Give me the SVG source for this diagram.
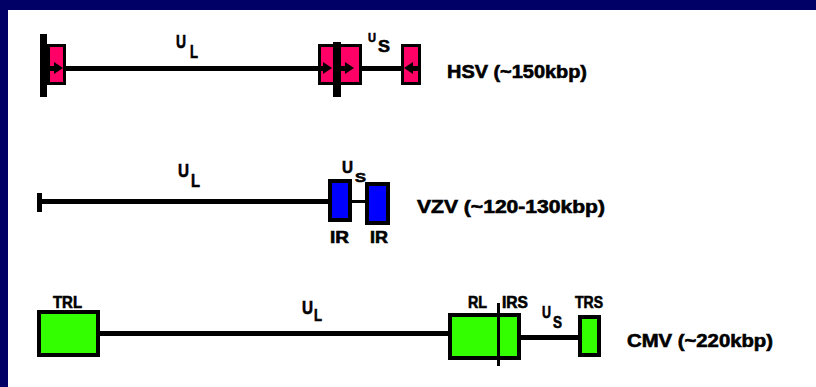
<svg xmlns="http://www.w3.org/2000/svg" width="816" height="387" viewBox="0 0 816 387">
  <style>
    .lbl { font-family: "Liberation Sans", Arial, sans-serif; font-weight: bold; fill: #000; stroke: #000; stroke-width: 0.6; }
    .name { font-size: 18px; }
    .seg { font-size: 16px; }
    .pink { fill: #ff0066; stroke: #000; stroke-width: 3; }
    .blue { fill: #0000ff; stroke: #000; stroke-width: 4; }
    .green { fill: #33ff00; stroke: #000; stroke-width: 4; }
  </style>
  <defs>
    <path id="arrR" d="M0,-6 L9,0 L0,6 Z" fill="#000"/>
    <path id="arrL" d="M0,-6 L-9,0 L0,6 Z" fill="#000"/>
  </defs>

  <!-- frame -->
  <rect x="0" y="0" width="816" height="387" fill="#000066"/>
  <rect x="8" y="10" width="808" height="377" fill="#ffffff"/>

  <!-- connectors: genome backbones -->
  <g id="connectors" fill="#000">
    <rect x="47" y="66" width="370" height="5"/>
    <rect x="37" y="199" width="293" height="5"/>
    <rect x="37" y="193" width="5" height="19"/>
    <rect x="352" y="200" width="14" height="3"/>
    <rect x="100" y="331" width="349" height="5"/>
    <rect x="521" y="335" width="57" height="5"/>
  </g>

  <!-- HSV genome -->
  <g id="hsv">
    <rect class="pink" x="48.5" y="45.5" width="16" height="38"/>
    <rect x="40" y="34" width="7" height="63" fill="#000"/>
    <rect x="47" y="66" width="8" height="5" fill="#000"/>
    <use href="#arrR" x="54" y="68"/>
    <rect class="pink" x="319.5" y="45.5" width="15" height="38"/>
    <rect class="pink" x="339.5" y="45.5" width="21" height="38"/>
    <rect x="333" y="42" width="8" height="55" fill="#000"/>
    <rect x="318" y="66" width="6" height="5" fill="#000"/>
    <use href="#arrR" x="323" y="68"/>
    <rect x="341" y="66" width="5" height="5" fill="#000"/>
    <use href="#arrR" x="345" y="68"/>
    <rect class="pink" x="402.5" y="45.5" width="17" height="38"/>
    <rect x="411" y="66" width="8" height="5" fill="#000"/>
    <use href="#arrL" x="413" y="68"/>
    <text class="lbl" x="176" y="48" font-size="19" textLength="10" lengthAdjust="spacingAndGlyphs">U</text>
    <text class="lbl" x="190" y="58" font-size="18" textLength="8" lengthAdjust="spacingAndGlyphs">L</text>
    <text class="lbl" x="368" y="42" font-size="13" textLength="8" lengthAdjust="spacingAndGlyphs">U</text>
    <text class="lbl" x="378" y="52" font-size="17" textLength="12" lengthAdjust="spacingAndGlyphs">S</text>
    <text class="lbl name" x="447" y="78" textLength="140" lengthAdjust="spacingAndGlyphs">HSV (~150kbp)</text>
  </g>

  <!-- VZV genome -->
  <g id="vzv">
    <rect class="blue" x="330" y="181" width="20" height="39"/>
    <rect class="blue" x="367" y="184" width="21" height="39"/>
    <text class="lbl" x="178" y="177" font-size="19" textLength="11" lengthAdjust="spacingAndGlyphs">U</text>
    <text class="lbl" x="191" y="187" font-size="18" textLength="9" lengthAdjust="spacingAndGlyphs">L</text>
    <text class="lbl" x="342" y="173" font-size="17" textLength="11" lengthAdjust="spacingAndGlyphs">U</text>
    <text class="lbl" x="355" y="182" font-size="13" textLength="11" lengthAdjust="spacingAndGlyphs">S</text>
    <text class="lbl seg" x="330" y="243" textLength="19" lengthAdjust="spacingAndGlyphs">IR</text>
    <text class="lbl seg" x="370" y="243" textLength="18" lengthAdjust="spacingAndGlyphs">IR</text>
    <text class="lbl name" x="417" y="213" textLength="188" lengthAdjust="spacingAndGlyphs">VZV (~120-130kbp)</text>
  </g>

  <!-- CMV genome -->
  <g id="cmv">
    <rect class="green" x="39" y="312" width="59" height="43"/>
    <rect class="green" x="450" y="315" width="69" height="43"/>
    <rect x="497" y="303" width="3" height="63" fill="#000"/>
    <rect class="green" x="580" y="317" width="19" height="38"/>
    <text class="lbl seg" x="53" y="308" textLength="29" lengthAdjust="spacingAndGlyphs">TRL</text>
    <text class="lbl" x="302" y="314" font-size="18" textLength="11" lengthAdjust="spacingAndGlyphs">U</text>
    <text class="lbl" x="314" y="321" font-size="16" textLength="8" lengthAdjust="spacingAndGlyphs">L</text>
    <text class="lbl seg" x="468" y="308" textLength="19" lengthAdjust="spacingAndGlyphs">RL</text>
    <text class="lbl seg" x="502" y="308" textLength="26" lengthAdjust="spacingAndGlyphs">IRS</text>
    <text class="lbl" x="542" y="318" font-size="16" textLength="9" lengthAdjust="spacingAndGlyphs">U</text>
    <text class="lbl" x="553" y="328" font-size="16" textLength="9" lengthAdjust="spacingAndGlyphs">S</text>
    <text class="lbl seg" x="575" y="308" textLength="28" lengthAdjust="spacingAndGlyphs">TRS</text>
    <text class="lbl name" x="627" y="347" textLength="146" lengthAdjust="spacingAndGlyphs">CMV (~220kbp)</text>
  </g>
</svg>
